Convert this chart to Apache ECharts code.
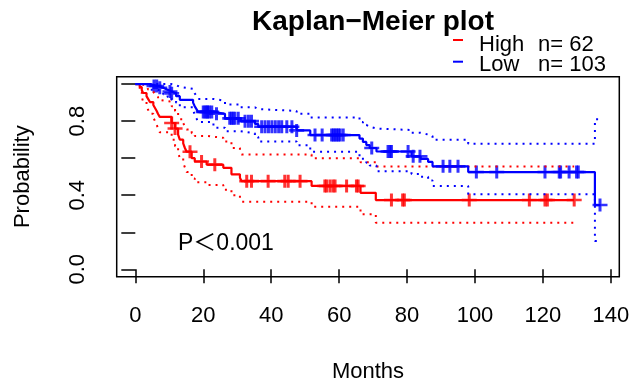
<!DOCTYPE html>
<html>
<head>
<meta charset="utf-8">
<title>Kaplan-Meier plot</title>
<script src="https://cdn.jsdelivr.net/npm/echarts@6/dist/echarts.min.js"></script>
<style>
  html, body { margin: 0; padding: 0; background: #fff; }
  #chart { width: 630px; height: 382px; }
</style>
</head>
<body>
<div id="chart"></div>
<script>
// High group (red), n = 62 : step times and survival after each step
const highTimes = [0, 1.3, 1.9, 2.3, 3.3, 3.8, 4.3, 5.3, 5.8, 6.3, 6.7, 7.2, 10.7, 11.7, 12.6, 13.1, 14.1, 14.6, 15.1, 16.6, 17.5, 21, 25.9, 28.3, 30.8, 31.3, 51.9, 66.3, 70.8];
const highSurv = [1, 0.984, 0.968, 0.952, 0.935, 0.919, 0.903, 0.887, 0.871, 0.855, 0.839, 0.823, 0.79, 0.76, 0.727, 0.70, 0.68, 0.655, 0.635, 0.60, 0.582, 0.565, 0.548, 0.513, 0.494, 0.476, 0.45, 0.413, 0.374];
const highUpper = [1, 1, 1, 0.99, 0.98, 0.97, 0.96, 0.95, 0.94, 0.93, 0.915, 0.905, 0.88, 0.855, 0.83, 0.81, 0.79, 0.77, 0.755, 0.735, 0.72, 0.71, 0.69, 0.655, 0.635, 0.62, 0.60, 0.578, 0.555];
const highLower = [1, 0.955, 0.93, 0.905, 0.88, 0.86, 0.84, 0.82, 0.80, 0.78, 0.76, 0.74, 0.70, 0.665, 0.63, 0.60, 0.575, 0.55, 0.525, 0.49, 0.47, 0.455, 0.43, 0.40, 0.385, 0.365, 0.338, 0.297, 0.252];
const highCensor = [10.7, 11.7, 16.1, 19.5, 23.4, 32.8, 34.2, 39.1, 44, 45, 48.5, 55.8, 56.3, 57.3, 58.2, 58.8, 62.2, 65.1, 65.6, 75.4, 78.7, 79.2, 98.3, 116, 120.6, 121.3, 129.2];
const highEnd = 129.2;

// Low group (blue), n = 103
const lowTimes = [0, 4.5, 6.5, 8.2, 9.5, 10.7, 12, 13.1, 17, 17.5, 18, 18.5, 23, 26.4, 31, 35.2, 36.2, 47.5, 51.5, 66, 67, 68, 69, 71, 81.3, 84, 86.2, 87.5, 98, 135.3];
const lowSurv = [1, 0.99, 0.98, 0.97, 0.96, 0.95, 0.935, 0.915, 0.90, 0.88, 0.865, 0.85, 0.84, 0.815, 0.80, 0.785, 0.77, 0.75, 0.725, 0.706, 0.688, 0.671, 0.655, 0.636, 0.61, 0.596, 0.58, 0.556, 0.525, 0.347];
const lowUpper = [1, 1, 1, 1, 1, 0.995, 0.985, 0.975, 0.965, 0.95, 0.935, 0.92, 0.91, 0.89, 0.875, 0.865, 0.855, 0.84, 0.82, 0.795, 0.78, 0.77, 0.76, 0.752, 0.737, 0.728, 0.72, 0.70, 0.678, 0.81];
const lowLower = [1, 0.97, 0.96, 0.945, 0.93, 0.915, 0.90, 0.875, 0.86, 0.835, 0.815, 0.795, 0.765, 0.745, 0.735, 0.715, 0.69, 0.67, 0.635, 0.61, 0.59, 0.575, 0.56, 0.53, 0.515, 0.50, 0.48, 0.45, 0.405, 0.153];
const lowCensor = [5.5, 6.3, 7.2, 10.2, 10.7, 20, 20.5, 21, 21.3, 21.8, 22.5, 23.9, 27.8, 28.3, 28.8, 29.3, 30.3, 32.3, 33.3, 34.2, 37.2, 38.2, 39.2, 40.2, 41.2, 42.2, 43.1, 44.6, 46.1, 47.5, 52.9, 55, 57.8, 58.3, 58.8, 59.3, 59.8, 60.3, 61.2, 69.6, 74.4, 75, 75.4, 80.3, 81.8, 83.8, 90.6, 92.6, 95, 100.4, 106.4, 120.6, 124.8, 125.2, 127.7, 129.9, 130.4, 136.8];
const lowEnd = 137;

const xTicks = [0, 20, 40, 60, 80, 100, 120, 140];
const yTicks = [0, 0.2, 0.4, 0.6, 0.8, 1.0];
const yLabels = [0, 0.4, 0.8];

const font = "'Liberation Sans', Arial, 'Noto Sans CJK SC', sans-serif";
const plus = 'path://M5.6,0H8.4V5.6H14V8.4H8.4V14H5.6V8.4H0V5.6H5.6Z';

function steps(times, vals, end) {
  let d = times.map((t, i) => [t, vals[i]]);
  d.push([end, vals[vals.length - 1]]);
  return d;
}
function survAt(times, vals, t) {
  let v = vals[0];
  for (let i = 0; i < times.length; i++) {
    if (times[i] <= t) v = vals[i];
  }
  return v;
}
function group(times, surv, upper, lower, censor, end, color) {
  let line = { type: 'line', step: 'end', symbol: 'none', silent: true, animation: false };
  return [
    Object.assign({}, line, { data: steps(times, upper, end), lineStyle: { color, width: 2, type: [2, 5] } }),
    Object.assign({}, line, { data: steps(times, lower, end), lineStyle: { color, width: 2, type: [2, 5] } }),
    Object.assign({}, line, { data: steps(times, surv, end), lineStyle: { color, width: 2.2 } }),
    {
      type: 'scatter',
      symbol: plus,
      symbolSize: [15, 13],
      itemStyle: { color },
      animation: false,
      data: censor.map(t => [t, survAt(times, surv, t)])
    }
  ];
}

let chart = echarts.init(document.getElementById('chart'));
let option = {
  backgroundColor: '#fff',
  title: {
    text: 'Kaplan\u2212Meier plot',
    left: 368,
    textAlign: 'center',
    top: 3,
    textStyle: { fontFamily: font, fontSize: 28, fontWeight: 'bold', color: '#000' }
  },
  grid: {
    left: 116.7,
    right: 10.7,
    top: 76.7,
    bottom: 105.3,
    outerBoundsMode: 'none',
    containLabel: false,
    show: true,
    borderColor: '#000',
    borderWidth: 1.5
  },
  xAxis: {
    type: 'value',
    min: -5.48,
    max: 142.48,
    axisLine: { show: false },
    axisTick: { show: true, customValues: xTicks, length: 14, lineStyle: { color: '#000', width: 1.5 } },
    axisLabel: { customValues: xTicks, margin: 28, fontSize: 22, fontFamily: font, color: '#000' },
    splitLine: { show: false },
    name: 'Months',
    nameLocation: 'middle',
    nameGap: 84,
    nameTextStyle: { fontSize: 22, fontFamily: font, color: '#000' }
  },
  yAxis: {
    type: 'value',
    min: -0.04,
    max: 1.04,
    axisLine: { show: false },
    axisTick: { show: true, customValues: yTicks, length: 14, lineStyle: { color: '#000', width: 1.5 } },
    axisLabel: {
      customValues: yLabels,
      rotate: 90,
      margin: 28,
      fontSize: 22,
      fontFamily: font,
      color: '#000',
      formatter: v => v.toFixed(1)
    },
    splitLine: { show: false },
    name: 'Probability',
    nameLocation: 'middle',
    nameGap: 83,
    nameTextStyle: { fontSize: 22, fontFamily: font, color: '#000' }
  },
  graphic: [
    { type: 'line', shape: { x1: 453, y1: 40, x2: 463, y2: 40 }, style: { stroke: '#ff0000', lineWidth: 2 } },
    { type: 'line', shape: { x1: 453, y1: 61.7, x2: 463, y2: 61.7 }, style: { stroke: '#0000ff', lineWidth: 2 } },
    { type: 'text', x: 479, y: 45, style: { text: 'High', font: '22px ' + font, fill: '#000', verticalAlign: 'middle' } },
    { type: 'text', x: 538, y: 45, style: { text: 'n= 62', font: '22px ' + font, fill: '#000', verticalAlign: 'middle' } },
    { type: 'text', x: 479, y: 65, style: { text: 'Low', font: '22px ' + font, fill: '#000', verticalAlign: 'middle' } },
    { type: 'text', x: 538, y: 65, style: { text: 'n= 103', font: '22px ' + font, fill: '#000', verticalAlign: 'middle' } },
    { type: 'text', x: 178, y: 243.5, style: { text: 'P\uFF1C0.001', font: '23px ' + font, fill: '#000', verticalAlign: 'middle' } }
  ],
  series: [].concat(
    group(highTimes, highSurv, highUpper, highLower, highCensor, highEnd, '#ff0000'),
    group(lowTimes, lowSurv, lowUpper, lowLower, lowCensor, lowEnd, '#0000ff')
  )
};
chart.setOption(option);
window.addEventListener('resize', () => {
  chart.resize();
});
</script>
</body>
</html>
